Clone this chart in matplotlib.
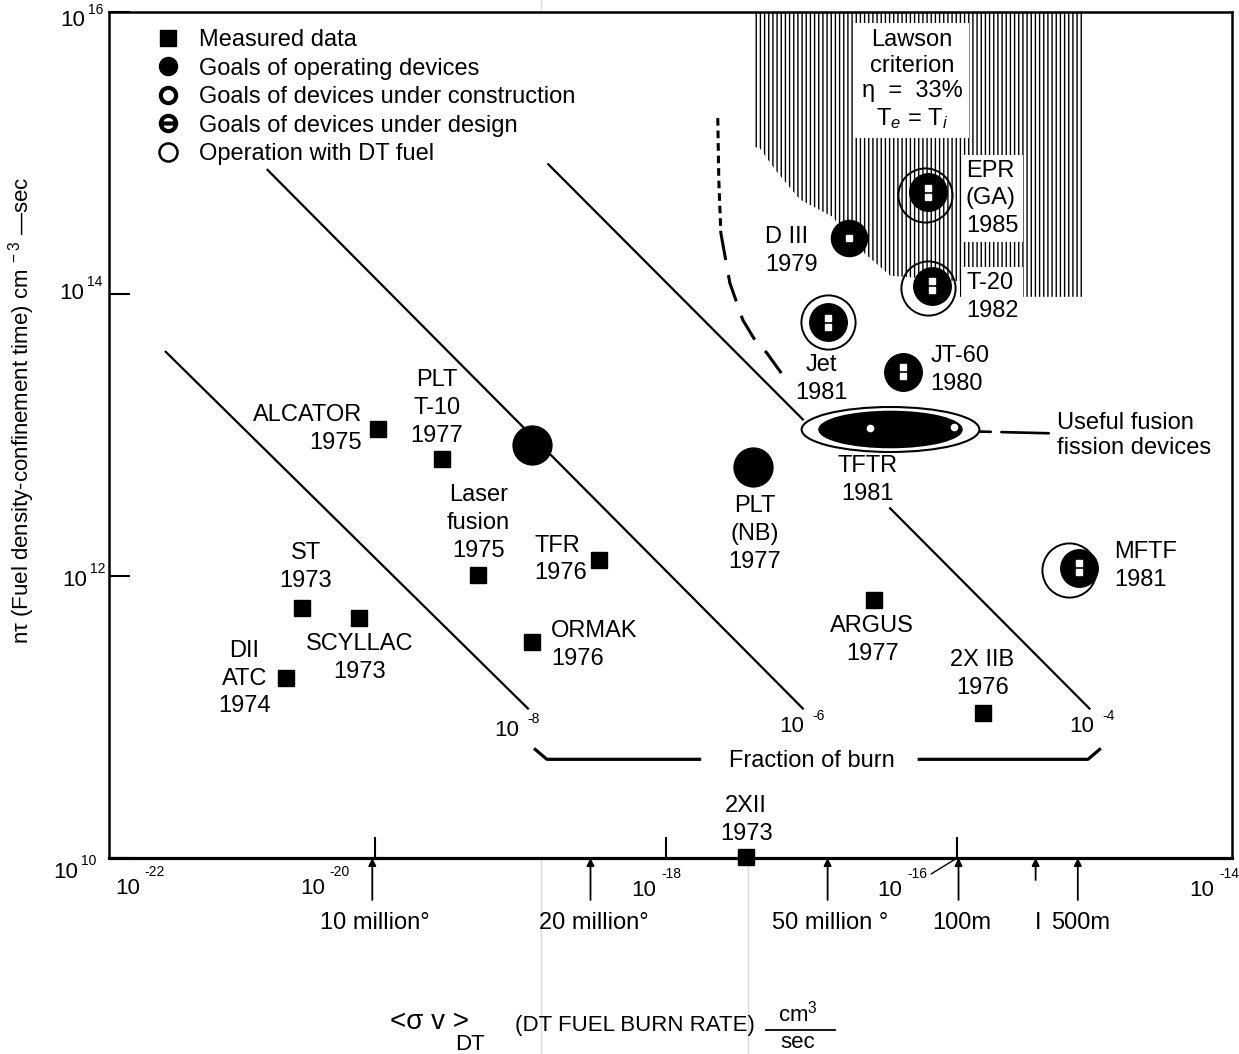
import numpy as np
import matplotlib
matplotlib.use('Agg')
import matplotlib.pyplot as plt
from matplotlib.lines import Line2D
from matplotlib.patches import Polygon
from matplotlib.path import Path
from matplotlib.ticker import NullLocator
import matplotlib.transforms as mtransforms

plt.rcParams['font.family'] = ['Liberation Sans', 'DejaVu Sans']
plt.rcParams['mathtext.fontset'] = 'custom'
plt.rcParams['mathtext.rm'] = 'Liberation Sans'
plt.rcParams['mathtext.it'] = 'Liberation Sans:italic'
plt.rcParams['mathtext.bf'] = 'Liberation Sans:bold'
plt.rcParams['hatch.linewidth'] = 1.0

# %% datos (todo en log10)

# datos medidos (cuadrados)
med_lbl = ['ALCATOR\n1975', 'PLT\nT-10\n1977', 'Laser\nfusion\n1975', 'TFR\n1976',
           'ORMAK\n1976', 'ST\n1973', 'SCYLLAC\n1973', 'DII\nATC\n1974',
           'ARGUS\n1977', '2X IIB\n1976', '2XII\n1973']
med_sv = [-19.98, -19.54, -19.29, -18.46, -18.92, -20.50, -20.11, -20.61, -16.57, -15.82, -17.45]
med_nt = [13.04, 12.83, 12.01, 12.11, 11.53, 11.77, 11.70, 11.28, 11.83, 11.03, 10.01]

# metas de equipos en operacion
op_lbl = ['', 'PLT\n(NB)\n1977']
op_sv = [-18.92, -17.40]
op_nt = [12.93, 12.77]

# en construccion
con_lbl = ['D III\n1979']
con_sv = [-16.74]
con_nt = [14.40]

# en diseño
des_lbl = ['EPR\n(GA)\n1985', 'T-20\n1982', 'Jet\n1981', 'JT-60\n1980', 'MFTF\n1981']
des_sv = [-16.20, -16.17, -16.89, -16.37, -15.16]
des_nt = [14.72, 14.06, 13.80, 13.45, 12.06]

# operacion con combustible DT (anillos)
dt_sv = [-16.22, -16.20, -16.89, -15.23]
dt_nt = [14.70, 14.04, 13.80, 12.04]

# TFTR
tftr_sv = [-16.46]
tftr_nt = [13.04]
tftr_pts_sv = [-16.60, -16.02]
tftr_pts_nt = [13.05, 13.06]

# fraccion de quemado
frac_exp = ['-8', '-6', '-4']
frac_sv = [[-21.44, -18.95],
           [-20.74, -17.06],
           [-18.81, -17.06, np.nan, -16.46, -15.09]]
frac_nt = [[13.59, 11.06],
           [14.88, 11.06],
           [14.92, 13.11, np.nan, 12.48, 11.06]]

# criterio de Lawson
law_sv = [-17.40, -15.14, -15.14, -15.98, -15.98, -16.46, -16.66, -16.86, -17.08, -17.25, -17.36, -17.40]
law_nt = [16.00, 16.00, 13.98, 13.98, 14.09, 14.13, 14.31, 14.55, 14.67, 14.88, 15.04, 15.04]

# curva a trazos
cur_sv = [-17.645, -17.638, -17.624, -17.562, -17.473, -17.390, -17.308, -17.164]
cur_nt = [15.248, 14.809, 14.433, 14.078, 13.816, 13.674, 13.582, 13.376]

# temperaturas
temp_lbl = ['10 million°', '20 million°', '50 million °', '100m', 'I', '500m']
temp_sv = [-20.02, -18.52, -16.89, -15.99, -15.46, -15.17]

# etiquetas de decadas
xdec_exp = ['-22', '-20', '-18', '-16', '-14']
ydec_exp = ['16', '14', '12', '10']

# %% figura

W, H = 1239, 1054
fig = plt.figure(figsize=(W/100, H/100), dpi=100)
ax = fig.add_axes([109/W, 196/H, 1123/W, 846/H])
ax.set_xscale('log')
ax.set_yscale('log')
ax.set_xlim(10**-21.83, 10**-14.11)
ax.set_ylim(1e10, 1e16)

P = lambda v: 10**np.asarray(v, dtype=float)
FS = 17
LS = 1.35


def potencia(cx, cy, sx, sy, exp, fs=16, fse=10):
    # "10" y exponente separados, como en el original
    fig.text(cx/W, 1 - cy/H, '10', ha='center', va='center', fontsize=fs)
    fig.text(sx/W, 1 - sy/H, exp, ha='center', va='center', fontsize=fse)


# region de Lawson
ax.add_patch(Polygon(np.column_stack([P(law_sv), P(law_nt)]), closed=True,
                     facecolor='none', edgecolor='black', hatch='||||', linewidth=0, zorder=1))
ax.text(0.715, 0.9196, 'Lawson\ncriterion\nη  =  33%\nT$_e$ = T$_i$', transform=ax.transAxes,
        ha='center', va='center', ma='center', fontsize=FS, linespacing=1.2,
        bbox=dict(fc='white', ec='none', pad=5), zorder=3)

# lineas de fraccion de quemado
for xs, ys in zip(frac_sv, frac_nt):
    ax.plot(P(xs), P(ys), color='k', lw=1.6, zorder=2)
for (cx, cy), e in zip([(507, 730), (792, 727), (1082, 727)], frac_exp):
    potencia(cx, cy, cx + 27, cy - 11, e)

# curva a trazos
ax.plot(P(cur_sv[:3]), P(cur_nt[:3]), color='k', lw=2.2, dashes=(2.5, 1.6), zorder=2)
ax.plot(P(cur_sv[2:]), P(cur_nt[2:]), color='k', lw=2.2, dashes=(9, 5), zorder=2)

# medidos
ax.plot(P(med_sv), P(med_nt), ls='', marker='s', ms=11, color='k', zorder=5, clip_on=False)
med_off = [(-16, 0, 'right'), (-5, 51, 'center'), (0, 52, 'center'), (-12, 1, 'right'),
           (19, -3, 'left'), (3, 41, 'center'), (0, -40, 'center'), (-16, -1, 'right'),
           (-2, -40, 'center'), (-1, 39, 'center'), (0, 37, 'center')]
med_ma = ['right', 'center', 'center', 'left', 'left', 'center', 'center', 'center',
          'center', 'center', 'center']
for x, y, lbl, (dx, dy, ha), ma in zip(med_sv, med_nt, med_lbl, med_off, med_ma):
    ax.annotate(lbl, xy=(P(x), P(y)), xytext=(dx, dy), textcoords='offset pixels',
                ha=ha, va='center', ma=ma, fontsize=FS, linespacing=LS, zorder=7)

# metas operacion
ax.plot(P(op_sv), P(op_nt), ls='', marker='o', ms=28, color='k', zorder=5)
ax.annotate(op_lbl[1], xy=(P(op_sv[1]), P(op_nt[1])), xytext=(1, -67), textcoords='offset pixels',
            ha='center', va='center', ma='center', fontsize=FS, linespacing=LS)

# en construccion
ax.plot(P(con_sv), P(con_nt), ls='', marker='o', ms=26, color='k', zorder=5)
ax.plot(P(con_sv), P(con_nt), ls='', marker='s', ms=4.5, color='white', zorder=6)
ax.annotate(con_lbl[0], xy=(P(con_sv[0]), P(con_nt[0])), xytext=(-32, -13), textcoords='offset pixels',
            ha='right', va='center', ma='left', fontsize=FS, linespacing=LS)

# anillos DT
ax.plot(P(dt_sv), P(dt_nt), ls='', marker='o', ms=39, mfc='none', mec='k', mew=1.4, zorder=4)

# en diseño
ax.plot(P(des_sv), P(des_nt), ls='', marker='o', ms=27, color='k', zorder=5)
arriba = mtransforms.offset_copy(ax.transData, fig=fig, x=0, y=4.5, units='dots')
abajo = mtransforms.offset_copy(ax.transData, fig=fig, x=0, y=-4.5, units='dots')
ax.plot(P(des_sv), P(des_nt), ls='', marker='s', ms=4.3, color='white', transform=arriba, zorder=6)
ax.plot(P(des_sv), P(des_nt), ls='', marker='s', ms=4.3, color='white', transform=abajo, zorder=6)
des_off = [(38, -6, 'left'), (34, -11, 'left'), (-6, -57, 'center'), (27, 2, 'left'), (35, 2, 'left')]
for i, (x, y, lbl, (dx, dy, ha)) in enumerate(zip(des_sv, des_nt, des_lbl, des_off)):
    bb = dict(fc='white', ec='none', pad=3) if i < 2 else None
    ax.annotate(lbl, xy=(P(x), P(y)), xytext=(dx, dy), textcoords='offset pixels',
                ha=ha, va='center', ma='left' if ha == 'left' else 'center',
                fontsize=FS, linespacing=LS, bbox=bb, zorder=7)

# TFTR (elipse)
elipse = Path.unit_circle().transformed(mtransforms.Affine2D().scale(1.0, 0.253))
ax.plot(P(tftr_sv), P(tftr_nt), ls='', marker=elipse, ms=128, mfc='white', mec='k', mew=1.5, zorder=4)
ax.plot(P(tftr_sv), P(tftr_nt), ls='', marker=elipse, ms=103, color='k', zorder=5)
ax.plot(P(tftr_pts_sv), P(tftr_pts_nt), ls='', marker='o', ms=4.5, color='white', zorder=6)
ax.annotate('TFTR\n1981', xy=(P(tftr_sv[0]), P(tftr_nt[0])), xytext=(-23, -51), textcoords='offset pixels',
            ha='center', va='center', ma='center', fontsize=FS, linespacing=LS)
ax.annotate('Useful fusion\nfission devices', xy=(P(tftr_sv[0]), P(tftr_nt[0])), xytext=(167, -6),
            textcoords='offset pixels', ha='left', va='center', ma='left', fontsize=FS, linespacing=1.2,
            arrowprops=dict(arrowstyle='-', lw=1.9, color='k', shrinkA=4, shrinkB=64,
                            linestyle=(0, (18, 4, 5, 20))))

# fraccion de quemado (llave)
ax.plot(P([-18.90, -18.82, -17.77]), P([10.77, 10.70, 10.70]), color='k', lw=2.3, clip_on=False)
ax.plot(P([-16.26, -15.10, -15.02]), P([10.70, 10.70, 10.77]), color='k', lw=2.3, clip_on=False)
ax.text(0.626, 0.1147, 'Fraction of burn', transform=ax.transAxes, ha='center', va='center', fontsize=FS)

# flechas de temperatura
for sv, lbl in zip(temp_sv, temp_lbl):
    largo = 22 if lbl == 'I' else 42
    ax.annotate('', xy=(P(sv), 0), xycoords=('data', 'axes fraction'), xytext=(0, -largo),
                textcoords='offset pixels', annotation_clip=False,
                arrowprops=dict(arrowstyle='-|>', color='k', lw=1.3, mutation_scale=11, shrinkA=0, shrinkB=0))
    ax.annotate(lbl, xy=(P(sv), 0), xycoords=('data', 'axes fraction'), xytext=(3, -65),
                textcoords='offset pixels', ha='center', va='center', fontsize=FS, annotation_clip=False)

# ejes
for s in ax.spines.values():
    s.set_linewidth(1.8)
ax.spines['bottom'].set_linewidth(2.3)
ax.xaxis.set_minor_locator(NullLocator())
ax.yaxis.set_minor_locator(NullLocator())
ax.set_xticks([1e-20, 1e-18, 1e-16])
ax.set_xticklabels(['', '', ''])
ax.set_yticks([1e10, 1e12, 1e14, 1e16])
ax.set_yticklabels(['', '', '', ''])
ax.tick_params(axis='both', direction='in', length=15, width=1.5)

for (cx, cy), e in zip([(128, 888), (313, 888), (644, 890), (890, 890), (1202, 890)], xdec_exp):
    potencia(cx, cy, cx + 27, cy - 16, e)
for (cx, cy), e in zip([(73, 21), (72, 293), (75, 580), (66, 872)], ydec_exp):
    potencia(cx, cy, cx + 23, cy - 11, e)
ax.annotate('', xy=(1e-16, 1e10), xytext=(-26, -16), textcoords='offset pixels', annotation_clip=False,
            arrowprops=dict(arrowstyle='-', lw=1.0, color='k', shrinkA=0, shrinkB=0))

# titulos de ejes
fig.text(22/W, 1 - 410/H, 'nτ (Fuel density-confinement time) cm$^{\\ -3}$ —sec',
         rotation=90, ha='center', va='center', fontsize=16)
fig.text(430/W, 1 - 1022/H, '<σ v >', ha='center', va='center', fontsize=20)
fig.text(470/W, 1 - 1045/H, 'DT', ha='center', va='center', fontsize=16)
fig.text(635/W, 1 - 1025/H, '(DT FUEL BURN RATE)', ha='center', va='center', fontsize=16)
fig.text(798/W, 1 - 1014/H, 'cm$^3$', ha='center', va='center', fontsize=16)
fig.text(798/W, 1 - 1042/H, 'sec', ha='center', va='center', fontsize=16)
fig.add_artist(Line2D([766/W, 835/W], [1 - 1030/H] * 2, color='k', lw=1.3))

# lineas tenues del escaneo
fig.add_artist(Line2D([541/W] * 2, [0, 1], color='0.86', lw=1.0, zorder=0))
fig.add_artist(Line2D([748/W] * 2, [0, 1 - 300/H], color='0.86', lw=1.0, zorder=0))

# leyenda
theta = Path.make_compound_path(Path.unit_circle(), Path([(-1.0, 0.0), (1.0, 0.0)]))
h_sq = Line2D([], [], ls='', marker='s', ms=12, color='k')
h_op = Line2D([], [], ls='', marker='o', ms=13, color='k')
h_con = Line2D([], [], ls='', marker='o', ms=11, mfc='white', mec='k', mew=3)
h_des = Line2D([], [], ls='', marker=theta, ms=11, mfc='white', mec='k', mew=3)
h_dt = Line2D([], [], ls='', marker='o', ms=13, mfc='white', mec='k', mew=1.8)
ax.legend([h_sq, h_op, h_con, h_des, h_dt],
          ['Measured data', 'Goals of operating devices', 'Goals of devices under construction',
           'Goals of devices under design', 'Operation with DT fuel'],
          loc='upper left', bbox_to_anchor=(0.0419, 0.980), frameon=False, fontsize=FS,
          handlelength=1.0, handletextpad=0.8, labelspacing=0.28, borderpad=0, borderaxespad=0)

fig.savefig('out.png', dpi=100)
